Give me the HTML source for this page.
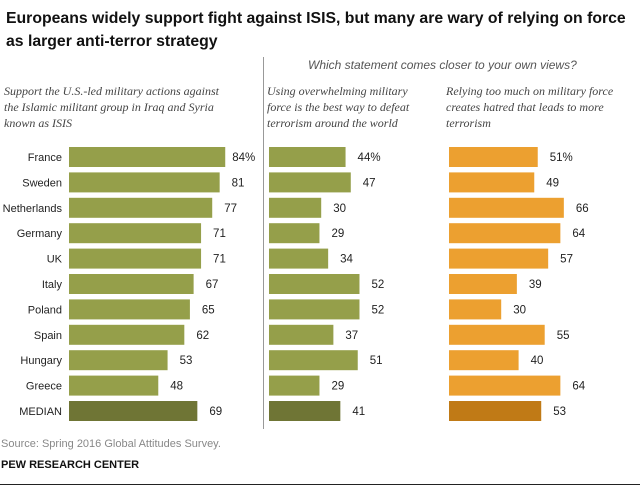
<!DOCTYPE html>
<html><head><meta charset="utf-8"><style>
body{margin:0;width:640px;height:489px;background:#fff;font-family:"Liberation Sans",sans-serif;position:relative;overflow:hidden}
.t{position:absolute;white-space:nowrap}
.it{font-family:"Liberation Serif",serif;font-style:italic;font-size:12px;color:#444;line-height:16px;position:absolute;white-space:nowrap}
</style></head><body>
<div class="t" style="left:6px;top:7px;font-size:15.8px;font-weight:bold;line-height:23px;color:#111">Europeans widely support fight against ISIS, but many are wary of relying on force<br>as larger anti-terror strategy</div>
<div class="t" style="left:308px;top:58px;font-size:12px;font-style:italic;color:#555">Which statement comes closer to your own views?</div>
<div class="it" style="left:4px;top:83px">Support the U.S.-led military actions against<br>the Islamic militant group in Iraq and Syria<br>known as ISIS</div>
<div class="it" style="left:267px;top:83px">Using overwhelming military<br>force is the best way to defeat<br>terrorism around the world</div>
<div class="it" style="left:446px;top:83px">Relying too much on military force<br>creates hatred that leads to more<br>terrorism</div>
<div style="position:absolute;left:263px;top:57px;width:1px;height:372px;background:#999"></div>
<svg id="ch" width="640" height="489" style="position:absolute;left:0;top:0"></svg>
<div class="t" style="left:1px;top:438px;font-size:11px;color:#888">Source: Spring 2016 Global Attitudes Survey.</div>
<div class="t" style="left:1px;top:459px;font-size:11px;font-weight:bold;color:#111">PEW RESEARCH CENTER</div>
<div style="position:absolute;left:0;top:484px;width:640px;height:1px;background:#222"></div>
<script>
const countries=["France","Sweden","Netherlands","Germany","UK","Italy","Poland","Spain","Hungary","Greece","MEDIAN"];
const support=[84,81,77,71,71,67,65,62,53,48,69];
const forceBest=[44,47,30,29,34,52,52,37,51,29,41];
const createsHatred=[51,49,66,64,57,39,30,55,40,64,53];
const svg=document.getElementById('ch');
const NS='http://www.w3.org/2000/svg';
function y(i){return 147+i*25.4;}
const cols=[
 {data:support,x0:69,k:1.86,c:'#959f4a',m:'#6f7535',name:'support'},
 {data:forceBest,x0:269,k:1.74,c:'#959f4a',m:'#6f7535',name:'force-best'},
 {data:createsHatred,x0:449,k:1.74,c:'#eca030',m:'#c07a16',name:'creates-hatred'}];
countries.forEach((c,i)=>{
 const t=document.createElementNS(NS,'text');
 t.setAttribute('x',62);t.setAttribute('y',y(i)+14);t.setAttribute('text-anchor','end');
 t.setAttribute('font-size','11');t.setAttribute('fill','#222');t.textContent=c;
 
 
 svg.appendChild(t);
});
cols.forEach((col,ci)=>{
 col.data.forEach((v,i)=>{
  const r=document.createElementNS(NS,'rect');
  const w=v*col.k;
  r.setAttribute('x',col.x0);r.setAttribute('y',y(i));r.setAttribute('width',w);r.setAttribute('height',20);
  r.setAttribute('fill',i===countries.length-1?col.m:col.c);
  
  
  svg.appendChild(r);
  const t=document.createElementNS(NS,'text');
  t.setAttribute('x',col.x0+w+(ci===0&&i===0?7:12));t.setAttribute('y',y(i)+14);
  t.setAttribute('font-size','11.5');t.setAttribute('fill','#222');
  t.textContent=v+(i===0?'%':'');
  
  
  svg.appendChild(t);
 });
});
</script>
</body></html>
